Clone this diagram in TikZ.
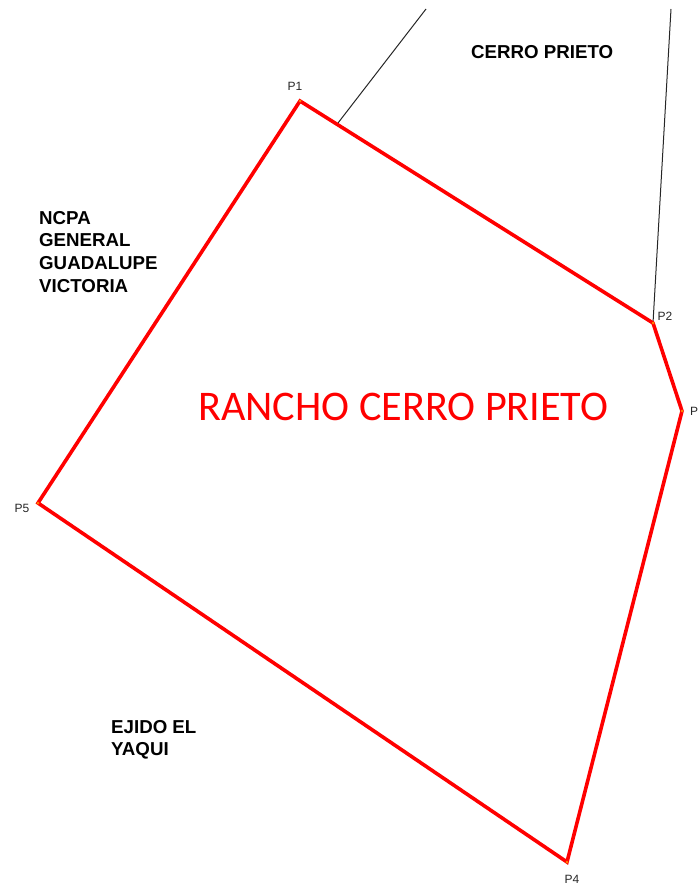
\documentclass[tikz,border=0pt]{standalone}
\usepackage{fontspec}
\setmainfont{Liberation Sans}
\newfontfamily\titlefont{Carlito}
\tikzset{
  bound/.style={draw=red,line width=3.6pt,line join=miter},
  adj/.style={draw=black!85,line width=1pt},
  vert/.style={circle,fill=orange,inner sep=0pt,minimum size=3pt},
  ptlabel/.style={font=\fontsize{12}{12}\selectfont,text=black!85,inner sep=0pt},
  owner/.style={font=\fontsize{18.7}{22.7}\selectfont\bfseries,align=left,anchor=north west,inner sep=0pt,text=black},
}
\begin{document}
\begin{tikzpicture}[x=1pt,y=-1pt]
\useasboundingbox (0,0) rectangle (699,886);
\coordinate (p1) at (300,101);
\coordinate (p2) at (653,323);
\coordinate (p3) at (682,411);
\coordinate (p4) at (567,862);
\coordinate (p5) at (38,503);
\coordinate (a1) at (338,123);
\coordinate (a2) at (426,9);
\coordinate (b2) at (671,9);
\draw[adj] (a1) -- (a2);
\draw[adj] (p2) -- (b2);
\draw[bound] (p1) -- (p2) -- (p3) -- (p4) -- (p5) -- cycle;
\foreach \v in {p1,p2,p3,p4,p5} \node[vert] at (\v) {};
\node[ptlabel] (l1) at (295,86) {P1};
\node[ptlabel] (l2) at (665,316) {P2};
\node[ptlabel,anchor=west] (l3) at (690,411) {P};
\node[ptlabel] (l4) at (572,879) {P4};
\node[ptlabel] (l5) at (22,508) {P5};
\node[font=\fontsize{18.7}{18.7}\selectfont\bfseries,anchor=west,inner sep=0pt,text=black] (cp) at (471,52) {CERRO PRIETO};
\node[owner] (nc) at (39,211) {NCPA\\GENERAL\\GUADALUPE\\VICTORIA};
\node[owner] (ej) at (111,720) {EJIDO EL\\YAQUI};
\node[font=\titlefont\fontsize{42.2}{42.2}\selectfont,text=red,anchor=west,inner sep=0pt] (t) at (198,407) {RANCHO CERRO PRIETO};
\end{tikzpicture}
\end{document}
